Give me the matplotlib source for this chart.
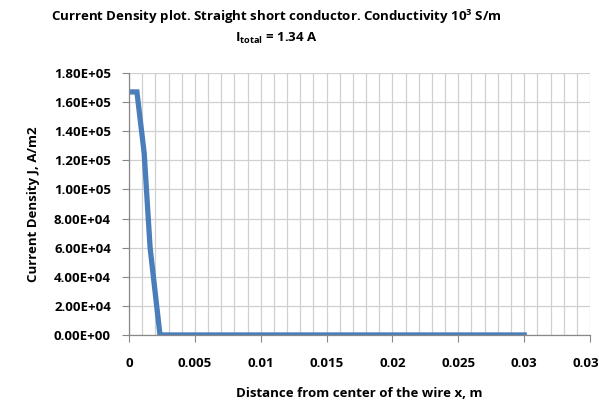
import matplotlib
matplotlib.use("Agg")
import matplotlib.pyplot as plt
from matplotlib.ticker import FuncFormatter, MultipleLocator

# Data
x_m = [0.0, 0.0006, 0.00115, 0.0016, 0.00235, 0.01, 0.02, 0.03]
J_am2 = [1.67e5, 1.67e5, 1.25e5, 6.0e4, 0.0, 0.0, 0.0, 0.0]
x_ticks = [0, 0.005, 0.01, 0.015, 0.02, 0.025, 0.03, 0.035]
x_ticklabels = ["0", "0.005", "0.01", "0.015", "0.02", "0.025", "0.03", "0.035"]

plt.rcParams['font.family'] = ['Open Sans', 'DejaVu Sans']
plt.rcParams['font.weight'] = 'bold'
plt.rcParams['mathtext.fontset'] = 'custom'
plt.rcParams['mathtext.bf'] = 'Open Sans:bold'
plt.rcParams['mathtext.rm'] = 'Open Sans:bold'

fig = plt.figure(figsize=(5.99, 4.09), dpi=100)
ax = fig.add_axes([0.2154, 0.181, 0.7696, 0.6405])

ax.plot(x_m, J_am2, color='#4a7ebb', lw=3.8, solid_joinstyle='miter')

ax.set_xlim(0, 0.035)
ax.set_ylim(0, 1.8e5)
ax.set_xticks(x_ticks)
ax.set_xticklabels(x_ticklabels)
ax.xaxis.set_minor_locator(MultipleLocator(0.001))
ax.yaxis.set_major_locator(MultipleLocator(2e4))
ax.yaxis.set_major_formatter(FuncFormatter(lambda v, p: f"{v:.2E}"))

ax.grid(True, which='both', axis='x', color='#d0d0d0', lw=0.9)
ax.grid(True, which='major', axis='y', color='#d0d0d0', lw=0.9)
ax.set_axisbelow(True)

for s in ['top', 'right']:
    ax.spines[s].set_visible(False)
for s in ['left', 'bottom']:
    ax.spines[s].set_color('#888888')
    ax.spines[s].set_linewidth(0.9)

ax.tick_params(axis='x', which='major', length=5, color='#888888', pad=11, labelsize=9.5)
ax.tick_params(axis='x', which='minor', length=0)
ax.tick_params(axis='y', length=5, color='#888888', pad=8, labelsize=9.5)
for lbl in ax.get_xticklabels() + ax.get_yticklabels():
    lbl.set_fontweight('bold')

ax.set_xlabel("Distance from center of the wire x, m", fontsize=9.5, fontweight='bold', labelpad=12)
ax.set_ylabel("Current Density J, A/m2", fontsize=9.5, fontweight='bold', labelpad=10)

fig.text(0.462, 0.958, r"Current Density plot. Straight short conductor. Conductivity 10$^\mathbf{3}$ S/m",
         ha='center', va='center', fontsize=9.5, fontweight='bold')
fig.text(0.462, 0.905, r"I$_\mathbf{total}$ = 1.34 A",
         ha='center', va='center', fontsize=9.5, fontweight='bold')

fig.savefig("out.png", dpi=100)
